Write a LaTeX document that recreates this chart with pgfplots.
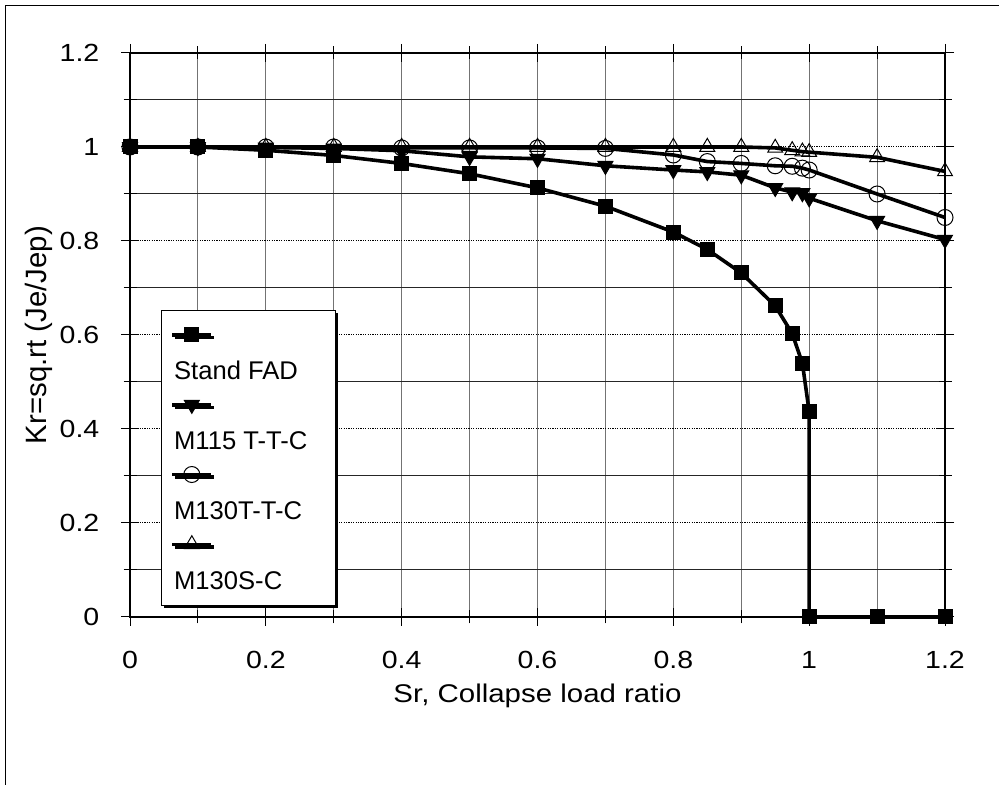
\documentclass[border=0pt]{standalone}
\usepackage{pgfplots}
\pgfplotsset{compat=1.18}
\usepackage{fontspec}
\setmainfont{Liberation Sans}
\newfontfamily\stretchfont{Liberation Sans}[FakeStretch=1.15]
\usetikzlibrary{shadows}
\newcommand{\tfz}{\stretchfont\fontsize{12.4}{15}\selectfont}
\newcommand{\xfz}{\stretchfont\fontsize{12.8}{15}\selectfont}
\newcommand{\yfz}{\fontsize{14.7}{17}\selectfont}
\newcommand{\lfz}{\fontsize{12.8}{15}\selectfont}
\begin{document}
\begin{tikzpicture}
\useasboundingbox (0pt,0pt) rectangle (499.5pt,392.5pt);
\draw[line width=0.8pt] (2.75pt,-20pt) -- (2.75pt,389.75pt) -- (520pt,389.75pt);
\begin{axis}[
  at={(65pt,84pt)}, anchor=south west,
  scale only axis, width=407.5pt, height=282pt,
  xmin=0, xmax=1.2, ymin=0, ymax=1.2,
  clip=false,
  axis line style={line width=0.75pt, black},
  xtick={0,0.2,...,1.2}, minor xtick={0.1,0.3,...,1.1},
  ytick={0,0.2,...,1.2}, minor ytick={0.1,0.3,...,1.1},
  xmajorgrids, xminorgrids, ymajorgrids, yminorgrids,
  major x grid style={black!55, line width=0.5pt},
  minor x grid style={black!55, line width=0.5pt},
  major y grid style={black, line width=0.5pt, dash pattern=on 0.6pt off 0.6pt},
  minor y grid style={black!85, line width=0.5pt},
  tick align=center, major tick length=9pt, minor tick length=6.5pt,
  tick style={black, line width=0.5pt},
  /pgf/number format/assume math mode=true,
  tick label style={font=\tfz},
  xticklabel style={yshift=-9pt},
  yticklabel style={xshift=-7.3pt},
  xlabel={Sr, Collapse load ratio},
  ylabel={Kr=sq.rt (Je/Jep)},
  xlabel style={font=\xfz, at={(axis description cs:0.5,-0.107)}, anchor=north},
  ylabel style={font=\yfz, at={(axis description cs:-0.086,0.5)}, anchor=south},
  legend style={font=\lfz, at={(0.0377,0.5443)}, anchor=north west,
    inner xsep=4.65pt, inner ysep=3.9pt, draw=black, line width=0.5pt,
    row sep=0pt,
    nodes={inner xsep=0pt, inner ysep=0pt, text height=9pt, text depth=0pt},
    drop shadow={shadow xshift=1.3pt, shadow yshift=-1.3pt, fill=black, opacity=1}},
  legend cell align=left,
  legend image code/.code={
    \draw[overlay,mark repeat=2,mark phase=2,#1] plot coordinates {(0pt,18pt) (9.75pt,18pt) (19.5pt,18pt)};
    \path (0pt,-7.7pt) (0pt,25.4pt);
  },
]
\addplot[black, line width=1.8pt, mark=square*, mark size=3.5pt, mark options={line width=0.5pt}] table {
0 1
0.1 1
0.2 0.993
0.3 0.982
0.4 0.965
0.5 0.943
0.6 0.913
0.7 0.874
0.8 0.819
0.85 0.782
0.9 0.732
0.95 0.662
0.975 0.603
0.99 0.54
1.0 0.437
1.0 0
1.1 0
1.2 0
};
\addplot[black, line width=1.8pt, mark=triangle*, mark size=4.3pt, mark options={rotate=180, line width=0.5pt}] table {
0 1
0.1 1
0.2 0.999
0.3 0.997
0.4 0.992
0.5 0.979
0.6 0.975
0.7 0.96
0.8 0.951
0.85 0.947
0.9 0.94
0.95 0.913
0.975 0.904
0.99 0.902
1.0 0.891
1.1 0.843
1.2 0.803
};
\addplot[black, line width=1.8pt, mark=o, mark size=4pt, mark options={line width=0.5pt}] table {
0 1
0.1 1
0.2 1
0.3 1
0.4 0.998
0.5 0.998
0.6 0.998
0.7 0.997
0.8 0.983
0.85 0.969
0.9 0.965
0.95 0.96
0.975 0.959
0.99 0.955
1.0 0.951
1.1 0.9
1.2 0.85
};
\addplot[black, line width=1.8pt, mark=triangle, mark size=4.3pt, mark options={line width=0.5pt}] table {
0 1
0.1 1
0.2 1
0.3 1
0.4 1
0.5 1
0.6 1
0.7 1
0.8 1
0.85 1
0.9 1
0.95 0.998
0.975 0.993
0.99 0.99
1.0 0.989
1.1 0.978
1.2 0.948
};
\legend{\makebox[76pt][l]{Stand FAD}, \makebox[76pt][l]{M115 T-T-C}, \makebox[76pt][l]{M130T-T-C}, \makebox[76pt][l]{M130S-C}}
\end{axis}
\end{tikzpicture}
\end{document}
